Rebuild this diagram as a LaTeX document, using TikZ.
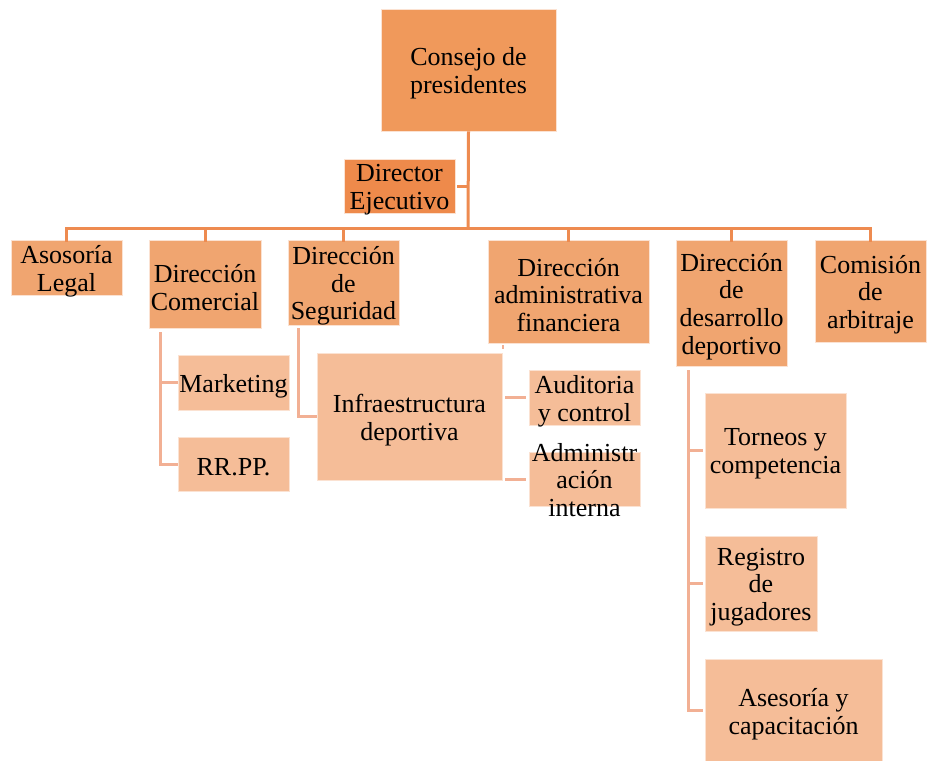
\documentclass[tikz,border=0pt]{standalone}
\usepackage{fontspec}
\setmainfont{Liberation Serif}
\definecolor{cTop}{HTML}{F0995B}
\definecolor{cDir}{HTML}{EE8A4B}
\definecolor{cTwo}{HTML}{F0A570}
\definecolor{cThree}{HTML}{F5BD98}
\definecolor{lineA}{HTML}{EE8B50}
\definecolor{lineB}{HTML}{F2B094}
\definecolor{edge}{HTML}{FBE2D2}
\newcommand{\bodyfont}{\fontsize{26pt}{27.7pt}\selectfont}
\tikzset{
  box/.style={draw=edge, line width=0.8pt, inner sep=0pt, rectangle},
  boxtop/.style={box, fill=cTop},
  boxdir/.style={box, fill=cDir},
  boxtwo/.style={box, fill=cTwo},
  boxthree/.style={box, fill=cThree},
  lbl/.style={label={[align=center, font=\bodyfont, inner sep=0pt, yshift=-3.5pt]center:#1}},
  connA/.style={draw=lineA, line width=3pt},
  connB/.style={draw=lineB, line width=3pt},
}
\begin{document}
\begin{tikzpicture}[x=1pt, y=-1pt]
\useasboundingbox (0,0) rectangle (931,760);
\fill[white] (0,0) rectangle (931,760);

% level 1
\node[boxtop, minimum width=175pt, minimum height=122pt, lbl={Consejo de\\presidentes}] (cons) at (468.5,70) {};
\node[boxdir, minimum width=111pt, minimum height=54pt, lbl={Director\\Ejecutivo}] (dir) at (399.5,186) {};

% level 2
\node[boxtwo, minimum width=111pt, minimum height=55pt, lbl={Asosoría\\Legal}] (asl) at (66.5,267.5) {};
\node[boxtwo, minimum width=112pt, minimum height=88pt, lbl={Dirección\\Comercial}] (com) at (205,284) {};
\node[boxtwo, minimum width=111pt, minimum height=85pt, lbl={Dirección\\de\\Seguridad}] (seg) at (343.5,282.5) {};
\node[boxtwo, minimum width=161pt, minimum height=103pt, lbl={Dirección\\administrativa\\financiera}] (adf) at (568.5,291.5) {};
\node[boxtwo, minimum width=111pt, minimum height=126pt, lbl={Dirección\\de\\desarrollo\\deportivo}] (des) at (731.5,303) {};
\node[boxtwo, minimum width=111pt, minimum height=102pt, lbl={Comisión\\de\\arbitraje}] (arb) at (870.5,291) {};

% connectors level 1 -> 2
\coordinate (bus) at (468,228);
\coordinate (dirj) at (468,186);
\draw[connA] (cons.south) -- (bus);
\draw[connA] ([xshift=2pt]dir.east) -- (dirj);
\draw[connA] ([yshift=-2pt]asl.north) -- (asl.north |- bus) -- (arb.north |- bus) -- ([yshift=-2pt]arb.north);
\draw[connA] (com.north |- bus) -- ([yshift=-2pt]com.north);
\draw[connA] (seg.north |- bus) -- ([yshift=-2pt]seg.north);
\draw[connA] (adf.north |- bus) -- ([yshift=-2pt]adf.north);
\draw[connA] (des.north |- bus) -- ([yshift=-2pt]des.north);

% level 3
\node[boxthree, minimum width=111pt, minimum height=55pt, lbl={Marketing}] (mkt) at (233.5,382.5) {};
\node[boxthree, minimum width=111pt, minimum height=54pt, lbl={RR.PP.}] (rrp) at (233.5,464) {};
\node[boxthree, minimum width=185pt, minimum height=127pt, lbl={Infraestructura\\deportiva}] (inf) at (409.5,416.5) {};
\node[boxthree, minimum width=111pt, minimum height=55pt, lbl={Auditoria\\y control}] (aud) at (584.5,397.5) {};
\node[boxthree, minimum width=111pt, minimum height=54pt] (adi) at (584.5,479) {};
\node[align=center, font=\bodyfont, inner sep=0pt] (adit) at (584.5,480) {Administr\\ación\\interna};
\node[boxthree, minimum width=141pt, minimum height=115pt, lbl={Torneos y\\competencia}] (tor) at (775.5,450.5) {};
\node[boxthree, minimum width=112pt, minimum height=95pt, lbl={Registro\\de\\jugadores}] (reg) at (761,583.5) {};
\node[boxthree, minimum width=177pt, minimum height=103pt, lbl={Asesoría y\\capacitación}] (ase) at (793.5,710.5) {};

% connectors level 2 -> 3
\coordinate (comv) at (160,332);
\draw[connB] (comv) |- (mkt.west);
\draw[connB] (comv) |- (rrp.west);
\coordinate (segv) at (298,328);
\draw[connB] (segv) |- (inf.west);
\coordinate (adfa) at (505,397.5);
\coordinate (adfb) at (505,479);
\coordinate (adfs) at (503,345);
\draw[connB, line width=2pt] (adfs) -- ++(0,4);
\draw[connB] (adfa) -- ([xshift=-3pt]aud.west);
\draw[connB] (adfb) -- ([xshift=-3pt]adi.west);
\coordinate (desv) at (688,370);
\draw[connB] (desv) |- ([xshift=-2pt]tor.west);
\draw[connB] (desv) |- ([xshift=-2pt]reg.west);
\draw[connB] (desv) |- ([xshift=-2pt,yshift=0.5pt]ase.west);
\end{tikzpicture}
\end{document}
